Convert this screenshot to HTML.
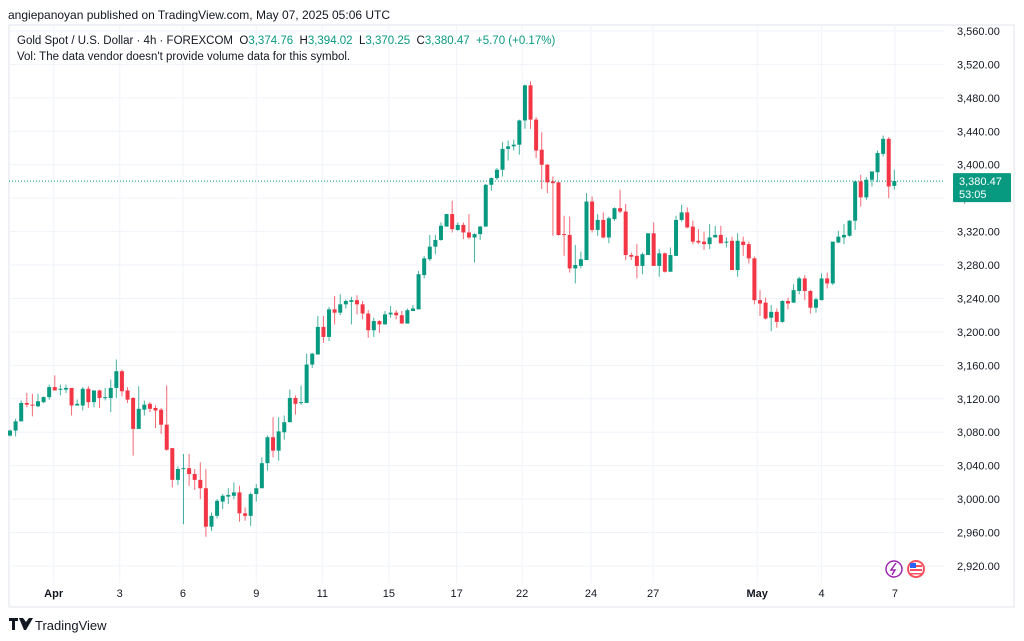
<!DOCTYPE html>
<html><head><meta charset="utf-8"><style>
body{margin:0;background:#fff;font-family:"Liberation Sans",sans-serif;}
svg{display:block}
</style></head><body>
<svg id="chart" width="1024" height="641" xmlns="http://www.w3.org/2000/svg" font-family="Liberation Sans, sans-serif">
<text x="8" y="19" font-size="12" fill="#131722">angiepanoyan published on TradingView.com, May 07, 2025 05:06 UTC</text>
<rect x="9" y="25" width="1005" height="582" fill="none" stroke="#e0e3eb"/>
<g id="grid"></g>
<g id="candles"></g>
<g id="axes"></g>
<text x="17" y="44" font-size="11.5" fill="#131722" xml:space="preserve" style="white-space:pre">Gold Spot / U.S. Dollar · 4h · FOREXCOM  O<tspan fill="#089981">3,374.76</tspan>  H<tspan fill="#089981">3,394.02</tspan>  L<tspan fill="#089981">3,370.25</tspan>  C<tspan fill="#089981">3,380.47</tspan>  <tspan fill="#089981">+5.70 (+0.17%)</tspan></text>
<text x="17" y="60" font-size="11.5" fill="#131722">Vol: The data vendor doesn't provide volume data for this symbol.</text>
<g>
<circle cx="894" cy="569" r="8" fill="#fff" stroke="#9c27b0" stroke-width="1.5"/>
<path d="M896 563 L891 570 L895 570 L892 575" fill="none" stroke="#9c27b0" stroke-width="1.5"/>
<circle cx="916" cy="569" r="9" fill="#f7525f"/>
<circle cx="916" cy="569" r="7" fill="#fff"/>
<rect x="910" y="565" width="12" height="2" fill="#f7525f"/><rect x="910" y="569" width="12" height="2" fill="#f7525f"/><rect x="910" y="573" width="12" height="1.5" fill="#f7525f"/>
<rect x="910" y="563" width="6" height="5" fill="#2962ff"/>
</g>
<g>
<path d="M9 618 h9 v3 h-3 v9 h-3 v-9 h-3z M19 618 h4 l3 4 l3 -4 h4 l-7 12 h-2z" fill="#131722"/>
<text x="35" y="630" font-size="13" fill="#131722">TradingView</text>
</g>
</svg>
<script>
const opens=[3076,3082,3093,3115,3113,3111,3116,3122,3134,3131,3131,3133,3112,3112,3132,3116,3130,3121,3121,3133,3153,3130,3121,3084,3107,3114,3109,3107,3089,3061,3023,
3036,3037,3030,3023,3013,2967,2980,2997,3003,3004,3008,2983,2980,3006,3013,3043,3074,3058,3080,3092,3121,3115,3115,3161,3173,3206,3194,3227,3223,3233,
3236,3238,3233,3222,3202,3213,3209,3221,3223,3220,3210,3225,3227,3268,3287,3302,3310,3326,3341,3322,3328,3319,3313,3317,3326,3376,3384,3394,3419,3422,3424,3453,3495,3454,
3418,3400,3380,3379,3317,3316,3276,3279,3286,3356,3322,3334,3313,3335,3348,3344,3292,3291,3279,3292,3318,3279,3294,3272,3291,3334,3343,3326,3309,3308,3305,3313,3316,3307,
3309,3274,3308,3305,3288,3238,3235,3217,3224,3212,3237,3235,3249,3264,3249,3229,3238,3264,3258,3307,3313,3315,3333,3380,3361,3382,3391,3413,3431,3374.76];
const closes=[3082,3093,3115,3113,3112,3117,3122,3134,3130,3132,3133,3112,3114,3132,3116,3130,3121,3122,3133,3153,3129,3119,3084,3108,3113,3108,3106,3089,3059,3023,3036,
3037,3030,3023,3013,2967,2980,2998,3004,3005,3008,2983,2980,3006,3013,3043,3074,3058,3081,3092,3121,3114,3116,3161,3174,3206,3194,3227,3223,3233,3237,
3238,3233,3222,3202,3213,3209,3221,3223,3220,3210,3226,3228,3269,3288,3302,3310,3327,3341,3323,3328,3319,3313,3317,3326,3376,3384,3394,3419,3422,3424,3453,3495,3454,3417,
3400,3379,3378,3316,3316,3276,3280,3287,3356,3322,3334,3313,3336,3348,3344,3292,3290,3279,3293,3318,3279,3294,3272,3292,3334,3343,3325,3308,3307,3305,3313,3316,3306,3308,
3274,3309,3304,3288,3238,3234,3216,3224,3212,3237,3234,3250,3264,3249,3229,3239,3264,3258,3308,3314,3316,3333,3380,3361,3382,3392,3414,3431,3374,3380.47];
const highs=[3083,3096,3118,3127,3126,3126,3123,3137,3148,3137,3137,3133,3119,3134,3135,3130,3131,3133,3143,3167,3155,3134,3122,3135,3118,3116,3112,3109,3136,3061,3039,
3054,3054,3036,3044,3036,2984,3000,3006,3013,3020,3016,2990,3008,3018,3050,3076,3098,3098,3100,3131,3124,3136,3174,3175,3219,3219,3230,3243,3245,3239,
3242,3244,3237,3226,3217,3214,3225,3231,3226,3225,3228,3232,3273,3291,3316,3316,3331,3341,3357,3331,3331,3341,3318,3327,3377,3385,3396,3427,3429,3430,3454,3496,3500,3457,
3439,3401,3386,3379,3339,3338,3304,3296,3366,3362,3341,3343,3338,3349,3370,3353,3295,3305,3295,3318,3331,3299,3295,3301,3339,3352,3349,3333,3323,3320,3329,3327,3327,3313,
3314,3318,3314,3308,3290,3250,3241,3232,3228,3238,3241,3257,3266,3268,3250,3241,3270,3271,3308,3321,3329,3334,3381,3388,3385,3392,3417,3435,3433,3394.02];
const lows=[3075,3075,3093,3110,3099,3110,3115,3119,3130,3124,3127,3100,3112,3106,3109,3110,3109,3118,3104,3121,3123,3115,3052,3084,3100,3104,3085,3078,3058,3014,3017,
2970,3016,3011,3000,2955,2962,2977,2988,2994,3000,2973,2974,2968,2997,3013,3034,3050,3046,3071,3092,3101,3113,3115,3157,3173,3187,3189,3209,3220,3228,
3209,3221,3215,3193,3194,3199,3209,3217,3215,3210,3210,3225,3227,3264,3285,3293,3309,3326,3319,3321,3311,3311,3283,3310,3326,3369,3382,3386,3405,3417,3412,3443,3443,3408,
3371,3366,3315,3315,3291,3271,3258,3276,3286,3319,3315,3312,3306,3333,3342,3286,3286,3264,3269,3292,3279,3266,3271,3272,3291,3332,3324,3305,3305,3298,3299,3313,3306,3301,
3274,3266,3291,3282,3233,3219,3215,3201,3205,3211,3227,3235,3245,3238,3222,3223,3238,3252,3256,3306,3305,3314,3322,3350,3358,3374,3379,3410,3360,3370.25];
const priceTicks=[3560,3520,3480,3440,3400,3360,3320,3280,3240,3200,3160,3120,3080,3040,3000,2960,2920];
const timeLabels=["Apr","3","6","9","11","15","17","22","24","27","May","4","7"];
const timeLabelIdx=[7.8,19.6,30.9,44,55.8,67.7,79.8,91.5,103.8,114.9,133.5,145,158.1];
const lastPrice=3380.47;

const NS="http://www.w3.org/2000/svg";
const yOf=p=>31+(3560-p)*0.8359;
const xOf=i=>10+i*5.597;
function mk(tag,attrs,parent){const e=document.createElementNS(NS,tag);for(const k in attrs)e.setAttribute(k,attrs[k]);parent.appendChild(e);return e;}
const grid=document.getElementById('grid'),cg=document.getElementById('candles'),ax=document.getElementById('axes');
priceTicks.forEach(p=>{
  const l=mk('line',{x1:9,x2:944,y1:yOf(p),y2:yOf(p),stroke:'#f0f3fa'},grid);
  
  
  const t=mk('text',{x:957,y:yOf(p)+4,'font-size':11,fill:'#131722'},ax);
  t.textContent=p.toLocaleString('en-US',{minimumFractionDigits:2});
  
  
});
timeLabels.forEach((s,k)=>{
  const x=xOf(timeLabelIdx[k]);
  const l=mk('line',{x1:x,x2:x,y1:25,y2:583,stroke:'#f0f3fa'},grid);
  
  
  const t=mk('text',{x:x,y:597,'font-size':11,fill:'#131722','text-anchor':'middle','font-weight':(s==='Apr'||s==='May')?'bold':'normal'},ax);
  t.textContent=s;
  
  
});
const ly=yOf(lastPrice);
const pl=mk('line',{x1:9,x2:944,y1:ly,y2:ly,stroke:'#089981','stroke-dasharray':'1 2','stroke-width':1},cg);


for(let i=0;i<opens.length;i++){
  const up=closes[i]>=opens[i];const col=up?'#089981':'#f23645';const x=xOf(i);
  const w=mk('line',{x1:x,x2:x,y1:yOf(highs[i]),y2:yOf(lows[i]),stroke:col,'stroke-width':1,opacity:0.75},cg);
  
  
  const top=yOf(Math.max(opens[i],closes[i])),bot=yOf(Math.min(opens[i],closes[i]));
  const b=mk('rect',{x:x-2,y:top,width:4,height:Math.max(1,bot-top),fill:col},cg);
  
  
}
const box=mk('rect',{x:953,y:ly-8,width:58,height:29,fill:'#089981',rx:1},ax);


const t1=mk('text',{x:959,y:ly+4,'font-size':11,fill:'#fff'},ax);t1.textContent=lastPrice.toLocaleString('en-US',{minimumFractionDigits:2});


const t2=mk('text',{x:959,y:ly+17,'font-size':11,fill:'#fff'},ax);t2.textContent='53:05';


</script>
</body></html>
